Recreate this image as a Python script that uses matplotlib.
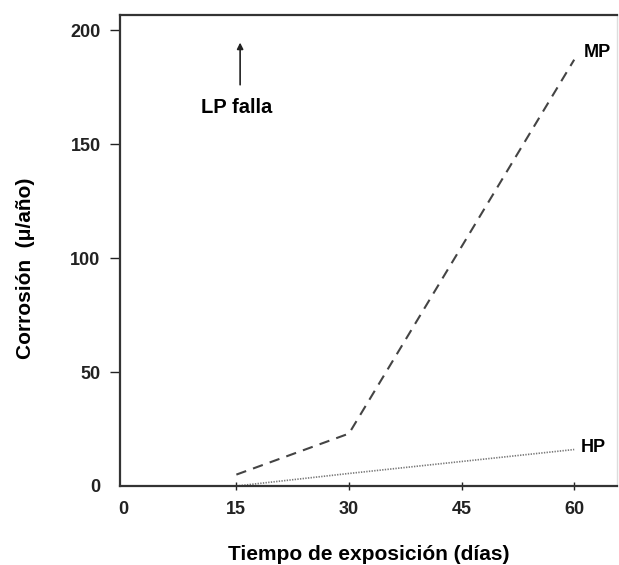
import matplotlib
matplotlib.use("Agg")
import matplotlib.pyplot as plt

plt.rcParams['font.family'] = ['Liberation Sans', 'DejaVu Sans']
plt.rcParams['font.weight'] = 'bold'

mp_days = [15, 30, 60]
mp_corr = [5, 23, 187]
hp_days = [15, 30, 60]
hp_corr = [0, 5.5, 16]
x_ticks = [0, 15, 30, 45, 60]
y_ticks = [0, 50, 100, 150, 200]

fig = plt.figure(figsize=(6.19, 5.65), dpi=100)
ax = fig.add_axes([120/619, 1-486/565, (617-120)/619, (486-15)/565])

ax.plot(mp_days, mp_corr, color='#444444', lw=1.5, dashes=(5, 3.5))
ax.plot(hp_days, hp_corr, color='#777777', lw=1.2, dashes=(0.8, 0.8))

ax.set_xlim(-0.5, 65.7)
ax.set_ylim(0, 206.6)
ax.set_xticks(x_ticks)
ax.set_yticks(y_ticks)
ax.tick_params(axis='y', direction='out', length=7, width=1, pad=7, labelsize=13, colors='#222222')
ax.tick_params(axis='x', direction='inout', length=6, width=1, pad=8, labelsize=13, colors='#222222')
for lbl in ax.get_xticklabels() + ax.get_yticklabels():
    lbl.set_fontweight('bold')
ax.xaxis.get_major_ticks()[0].tick1line.set_visible(False)
ax.yaxis.get_major_ticks()[0].tick1line.set_visible(False)

for s in ['left', 'bottom', 'top']:
    ax.spines[s].set_color('#333333')
    ax.spines[s].set_linewidth(1.6)
ax.spines['right'].set_color('#dddddd')
ax.spines['right'].set_linewidth(1.0)

ax.set_xlabel('Tiempo de exposición (días)', fontsize=15, fontweight='bold', labelpad=19)
ax.set_ylabel('Corrosión  (μ/año)', fontsize=15, fontweight='bold')
ax.yaxis.set_label_coords(-0.172, 0.463)

ax.text(61.3, 190, 'MP', fontsize=13, fontweight='bold', ha='left', va='center')
ax.text(60.9, 17, 'HP', fontsize=13, fontweight='bold', ha='left', va='center')
ax.text(15, 166, 'LP falla', fontsize=14.5, fontweight='bold', ha='center', va='center')
ax.annotate('', xy=(15.5, 194.5), xytext=(15.5, 176),
            arrowprops=dict(arrowstyle='-|>', color='#222222', lw=1.2, mutation_scale=9,
                            shrinkA=0, shrinkB=0))

fig.savefig('out.png', dpi=100, facecolor='white')
